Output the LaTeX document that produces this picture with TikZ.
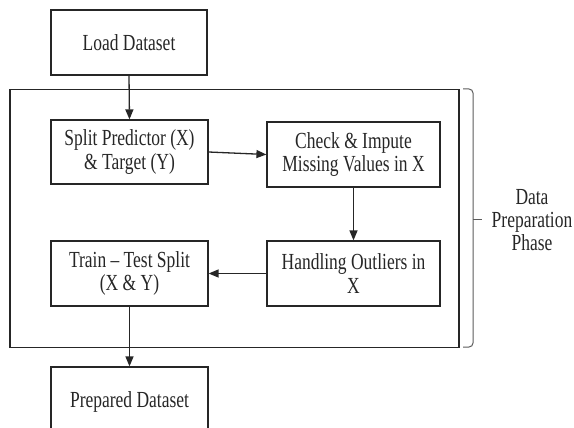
\documentclass[tikz,border=0pt]{standalone}
\usepackage{fontspec}
\setmainfont{Liberation Serif}[FakeStretch=0.76]
\usetikzlibrary{arrows.meta}
\definecolor{ink}{HTML}{262626}
\begin{document}
\begin{tikzpicture}[x=1pt,y=-1pt,
  box/.style={draw=ink, line width=1.2pt, inner sep=0pt, align=center, text=ink,
    font=\fontsize{23}{23.5}\selectfont},
  conn/.style={draw=ink, line width=1.3pt, -{Triangle[length=10pt,width=8pt]}},
  phasebox/.style={draw=ink, line width=1.2pt, inner sep=0pt},
  bracket/.style={draw=ink!75, line width=1pt, rounded corners=4pt}]
\useasboundingbox (0,0) rectangle (574,428);
\clip (0,0) rectangle (574,428);
\node[box, minimum width=156, minimum height=65] (load) at (129,42.5) {Load Dataset};
\node[phasebox, minimum width=449, minimum height=258] (phase) at (234.5,218.5) {};
\node[box, minimum width=157, minimum height=64] (split) at (129.5,152) {Split Predictor (X)\\\& Target (Y)};
\node[box, minimum width=173, minimum height=65] (check) at (353.5,154.5) {Check \& Impute\\Missing Values in X};
\node[box, minimum width=173, minimum height=65] (outl) at (353.5,273.5) {Handling Outliers in\\X};
\node[box, minimum width=157, minimum height=65] (tts) at (129.5,273.5) {Train -- Test Split\\(X \& Y)};
\node[box, minimum width=157, minimum height=70] (prep) at (129.5,402) {Prepared Dataset};
\node[align=center, text=ink, font=\fontsize{23}{23}\selectfont] (lbl) at (532,220) {Data\\Preparation\\Phase};
\coordinate (bt) at (463,89);
\coordinate (bb) at (463,347);
\coordinate (bm) at (473,219);
\draw[bracket] (bt) -- (bt -| bm) -- (bb -| bm) -- (bb);
\draw[draw=ink!75, line width=1pt] (bm) -- ++(9,0);
\draw[conn] (load.south) -- (split.north);
\draw[conn] (split.east) -- (check.west);
\draw[conn] (check.south) -- (outl.north);
\draw[conn] (outl.west) -- (tts.east);
\draw[conn] (tts.south) -- (prep.north);
\end{tikzpicture}
\end{document}
